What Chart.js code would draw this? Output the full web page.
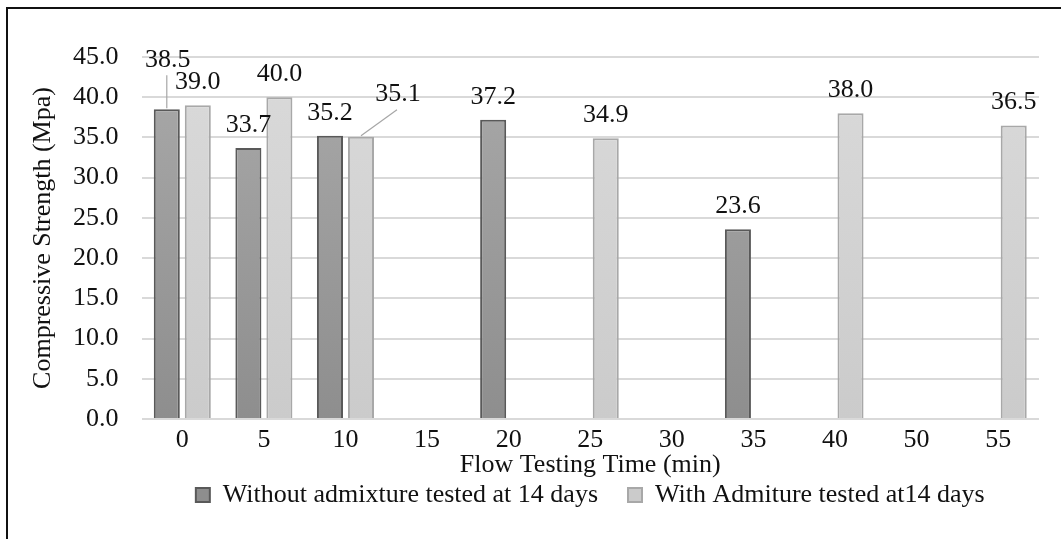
<!DOCTYPE html>
<html>
<head>
<meta charset="utf-8">
<script src="https://cdn.jsdelivr.net/npm/chart.js@4"></script>
<style>
  body { margin: 0; background: #fff; }
  #frame {
    position: absolute;
    left: 6px;
    top: 7px;
    width: 1055px;
    height: 532px;
    border-top: 2px solid #111;
    border-left: 2px solid #111;
  }
  #chart { display: block; }
</style>
</head>
<body>
<div id="frame"><canvas id="chart" width="1053" height="530"></canvas></div>
<script>
const times = ['0', '5', '10', '15', '20', '25', '30', '35', '40', '50', '55'];
const withoutAdmixture = [38.5, 33.7, 35.2, null, 37.2, null, null, 23.6, null, null, null];
const withAdmixture = [39.0, 40.0, 35.1, null, null, 34.9, null, null, 38.0, null, 36.5];
const yTicks = { min: 0, max: 45, step: 5 };

const serif = "'Liberation Serif', 'Times New Roman', serif";
const textFont = { family: serif, size: 26, lineHeight: 1 };

function barGradient(top, bottom)
{
  return function (context)
  {
    let area = context.chart.chartArea;
    if (!area) return top;
    let g = context.chart.ctx.createLinearGradient(0, area.top, 0, area.bottom);
    g.addColorStop(0, top);
    g.addColorStop(1, bottom);
    return g;
  };
}

// value labels above the bars, two of them moved aside with a leader line
const valueLabels = {
  id: 'valueLabels',
  afterDatasetsDraw(chart, args, opts)
  {
    let ctx = chart.ctx;
    ctx.save();
    ctx.font = opts.size + 'px ' + serif;
    ctx.textAlign = 'center';
    ctx.textBaseline = 'middle';
    chart.data.datasets.forEach((ds, di) =>
    {
      chart.getDatasetMeta(di).data.forEach((bar, i) =>
      {
        let v = ds.data[i];
        if (v == null) return;
        let shift = opts.shifts[di + '-' + i];
        let x = bar.x;
        let y = bar.y - opts.offset;
        if (shift)
        {
          x += shift[0];
          y += shift[1];
          ctx.strokeStyle = '#a6a6a6';
          ctx.lineWidth = 1.2;
          ctx.beginPath();
          ctx.moveTo(bar.x, bar.y - 1);
          ctx.lineTo(x - 1, y + 15);
          ctx.stroke();
        }
        ctx.fillStyle = '#111';
        ctx.fillText(v.toFixed(1), x, y);
      });
    });
    ctx.restore();
  }
};

new Chart(document.getElementById('chart'), {
  type: 'bar',
  data: {
    labels: times,
    datasets: [{
      label: 'Without admixture tested at 14 days',
      data: withoutAdmixture,
      backgroundColor: barGradient('#a9a9a9', '#8e8e8e'),
      borderColor: '#595959',
      borderWidth: 2,
      borderSkipped: 'bottom'
    }, {
      label: 'With Admiture tested at14 days',
      data: withAdmixture,
      backgroundColor: barGradient('#dadada', '#cbcbcb'),
      borderColor: '#a8a8a8',
      borderWidth: 2,
      borderSkipped: 'bottom'
    }]
  },
  options: {
    responsive: false,
    animation: false,
    categoryPercentage: 0.76,
    barPercentage: 0.84,
    layout: { padding: { top: 48, right: 22, bottom: 21, left: 22 } },
    plugins: {
      tooltip: { enabled: false },
      valueLabels: {
        size: 26,
        offset: 23,
        shifts: { '0-0': [1, -26], '1-2': [37, -19] }
      },
      legend: {
        position: 'bottom',
        fullSize: false,
        labels: {
          color: '#111',
          font: textFont,
          boxWidth: 14,
          boxHeight: 14,
          padding: 30
        }
      }
    },
    scales: {
      x: {
        grid: { display: false },
        border: { display: false },
        ticks: { color: '#111', font: textFont, padding: 0 },
        title: {
          display: true,
          text: 'Flow Testing Time (min)',
          color: '#111',
          font: textFont,
          padding: { top: -1, bottom: -26 }
        }
      },
      y: {
        min: yTicks.min,
        max: yTicks.max,
        border: { display: false },
        grid: { color: '#d9d9d9', lineWidth: 2, drawTicks: false },
        ticks: {
          stepSize: yTicks.step,
          color: '#111',
          padding: 23,
          font: textFont,
          callback: v => v.toFixed(1)
        },
        title: {
          display: true,
          text: 'Compressive Strength (Mpa)',
          color: '#111',
          font: textFont,
          padding: { top: 0, bottom: -6 }
        }
      }
    }
  },
  plugins: [valueLabels]
});
</script>
</body>
</html>
